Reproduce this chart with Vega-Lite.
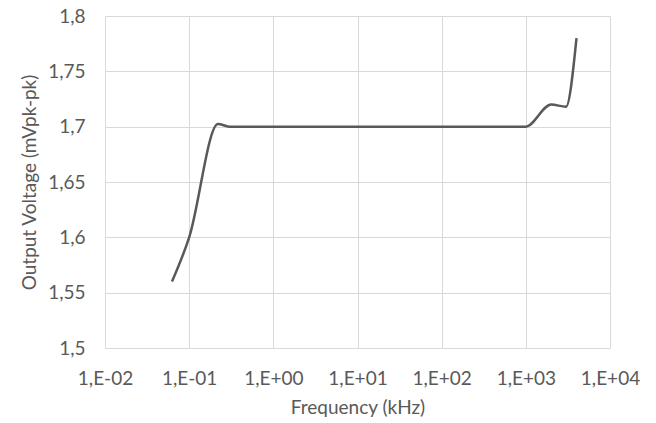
{
  "$schema": "https://vega.github.io/schema/vega-lite/v6.json",
  "width": 505,
  "height": 332,
  "autosize": {"type": "none"},
  "padding": {"left": 105, "top": 16, "right": 46, "bottom": 75},
  "background": "white",
  "config": {
    "view": {"stroke": null},
    "font": "Lato",
    "axis": {
      "labelFont": "Lato",
      "titleFont": "Lato",
      "labelFontSize": 19,
      "titleFontSize": 19,
      "labelColor": "#595959",
      "titleColor": "#595959",
      "titleFontWeight": "normal",
      "gridColor": "#d9d9d9",
      "gridWidth": 1,
      "domain": false,
      "ticks": false,
      "labelOverlap": false,
      "labelFlush": false,
      "labelBound": false
    }
  },
  "data": {
    "values": [
      {"freq": 0.0625, "v": 1.56},
      {"freq": 0.1, "v": 1.6},
      {"freq": 0.22, "v": 1.7025},
      {"freq": 0.3, "v": 1.7},
      {"freq": 1, "v": 1.7},
      {"freq": 10, "v": 1.7},
      {"freq": 100, "v": 1.7},
      {"freq": 1000, "v": 1.7},
      {"freq": 2000, "v": 1.72},
      {"freq": 3000, "v": 1.718},
      {"freq": 4000, "v": 1.78}
    ]
  },
  "mark": {"type": "line", "color": "#595959", "strokeWidth": 2.5, "interpolate": "monotone"},
  "encoding": {
    "x": {
      "field": "freq",
      "type": "quantitative",
      "scale": {"type": "log", "domain": [0.01, 10000], "nice": false},
      "axis": {
        "values": [0.01, 0.1, 1, 10, 100, 1000, 10000],
        "labelExpr": "'1,E' + (round(log(datum.value)/LN10) < 0 ? '-' : '+') + '0' + abs(round(log(datum.value)/LN10))",
        "labelPadding": 21,
        "titlePadding": 10,
        "title": "Frequency (kHz)"
      }
    },
    "y": {
      "field": "v",
      "type": "quantitative",
      "scale": {"domain": [1.5, 1.8], "zero": false, "nice": false},
      "axis": {
        "values": [1.5, 1.55, 1.6, 1.65, 1.7, 1.75, 1.8],
        "labelExpr": "replace(format(datum.value, '.2~f'), '.', ',')",
        "labelPadding": 20,
        "titlePadding": 8,
        "title": "Output Voltage (mVpk-pk)"
      }
    }
  }
}
